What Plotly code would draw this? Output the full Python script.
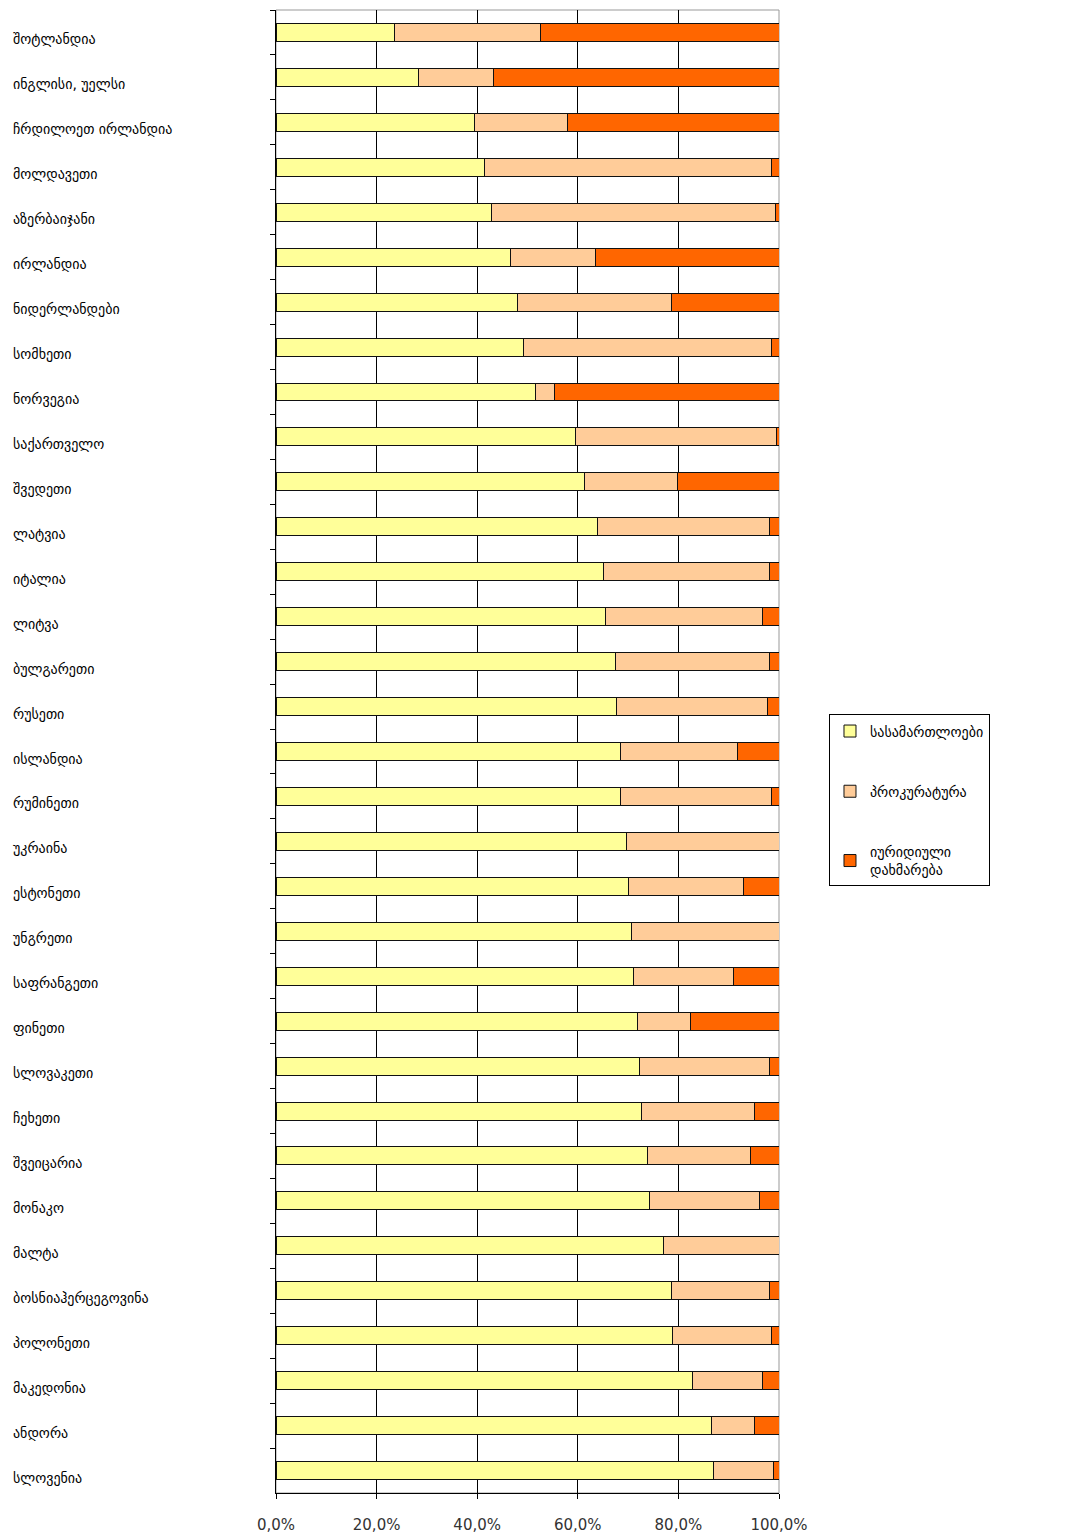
import plotly.graph_objects as go

countries = [
    "შოტლანდია", "ინგლისი, უელსი", "ჩრდილოეთ ირლანდია", "მოლდავეთი",
    "აზერბაიჯანი", "ირლანდია", "ნიდერლანდები", "სომხეთი", "ნორვეგია",
    "საქართველო", "შვედეთი", "ლატვია", "იტალია", "ლიტვა", "ბულგარეთი",
    "რუსეთი", "ისლანდია", "რუმინეთი", "უკრაინა", "ესტონეთი", "უნგრეთი",
    "საფრანგეთი", "ფინეთი", "სლოვაკეთი", "ჩეხეთი", "შვეიცარია", "მონაკო",
    "მალტა", "ბოსნიაჰერცეგოვინა", "პოლონეთი", "მაკედონია", "ანდორა", "სლოვენია",
]

courts = [23.6, 28.3, 39.5, 41.4, 42.8, 46.6, 48.1, 49.3, 51.6, 59.5, 61.3,
          63.9, 65.1, 65.5, 67.4, 67.7, 68.5, 68.5, 69.7, 70.0, 70.7, 71.1,
          71.9, 72.3, 72.7, 73.8, 74.2, 77.1, 78.6, 78.9, 82.8, 86.5, 86.9]

prosecution = [29.0, 15.0, 18.4, 57.2, 56.5, 17.0, 30.5, 49.3, 3.8, 40.1, 18.5,
               34.3, 33.1, 31.2, 30.8, 30.1, 23.3, 30.1, 30.3, 22.9, 29.3, 19.9,
               10.5, 25.9, 22.4, 20.6, 22.0, 22.9, 19.6, 19.7, 13.9, 8.6, 12.0]

legal_aid = [47.4, 56.7, 42.1, 1.4, 0.7, 36.4, 21.4, 1.4, 44.6, 0.4, 20.2,
             1.8, 1.8, 3.3, 1.8, 2.2, 8.2, 1.4, 0.0, 7.1, 0.0, 9.0,
             17.6, 1.8, 4.9, 5.6, 3.8, 0.0, 1.8, 1.4, 3.3, 4.9, 1.1]

series_names = ["სასამართლოები", "პროკურატურა", "იურიდიული<br>დახმარება"]
series_colors = ["#FFFF99", "#FFCC99", "#FF6600"]
series_values = [courts, prosecution, legal_aid]

x_tick_vals = [0, 20, 40, 60, 80, 100]
x_tick_text = ["0,0%", "20,0%", "40,0%", "60,0%", "80,0%", "100,0%"]

fig = go.Figure()
for i, (name, color, vals) in enumerate(zip(series_names, series_colors, series_values)):
    fig.add_trace(go.Bar(
        y=countries, x=vals, name=name, orientation="h",
        marker=dict(color=color, line=dict(color="#111111", width=1)),
        legendgroup=f"g{i}",
    ))

annotations = [
    dict(x=-0.526, y=c, xref="paper", yref="y", text=c, showarrow=False,
         xanchor="left", yanchor="middle", yshift=-7,
         font=dict(family="DejaVu Sans", size=14, color="black"))
    for c in countries
]

fig.update_layout(
    width=1066, height=1539,
    barmode="stack", bargap=0.6,
    paper_bgcolor="white", plot_bgcolor="white",
    margin=dict(l=268, r=295, t=2, b=54, autoexpand=False),
    font=dict(family="DejaVu Sans", size=14, color="black"),
    annotations=annotations,
    legend=dict(
        x=1.0994, xanchor="left", y=0.467, yanchor="middle",
        bordercolor="black", borderwidth=1, bgcolor="white",
        font=dict(family="DejaVu Sans", size=14, color="black"),
        traceorder="grouped", tracegroupgap=39,
    ),
    xaxis=dict(
        range=[0, 100], tickvals=x_tick_vals, ticktext=x_tick_text,
        showgrid=True, gridcolor="black", gridwidth=1,
        showline=True, linecolor="black", linewidth=1,
        ticks="outside", ticklen=5, tickcolor="black",
        ticklabelstandoff=13,
        zeroline=False, fixedrange=True,
        tickfont=dict(family="DejaVu Sans", size=15, color="#333333"),
    ),
    yaxis=dict(
        autorange="reversed", showticklabels=False,
        showline=True, linecolor="black", linewidth=1,
        ticks="outside", ticklen=5, tickcolor="black", tickson="boundaries",
        showgrid=False, zeroline=False,
    ),
    shapes=[dict(type="rect", xref="paper", yref="paper", x0=0, x1=1, y0=0, y1=1,
                 line=dict(color="#999999", width=1), layer="below")],
)

fig.write_html("out.html")
